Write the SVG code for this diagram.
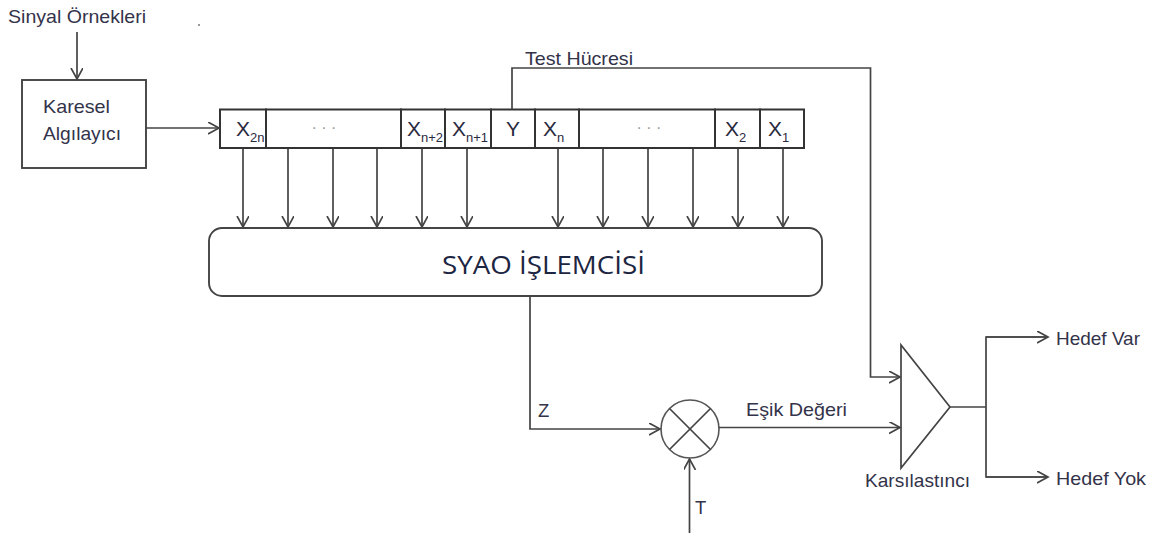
<svg xmlns="http://www.w3.org/2000/svg" width="1161" height="533" viewBox="0 0 1161 533">
<style>
.ln{fill:none;stroke:#444;stroke-width:1.7}
.bx{fill:#fff;stroke:#444;stroke-width:1.9}
.cell{fill:#fff;stroke:#333;stroke-width:2}
.t{font-family:"Liberation Sans",Arial,sans-serif;font-size:18.5px;fill:#33334a}
.x{font-family:"Liberation Sans",Arial,sans-serif;font-size:21px;fill:#2a2a40}
.sub{font-family:"Liberation Sans",Arial,sans-serif;font-size:13px;fill:#2a2a40}
.dots{font-family:"Liberation Sans",Arial,sans-serif;font-size:16px;fill:#9a9a9a}
.big{font-family:"Open Sans","Noto Sans",sans-serif;font-size:25px;fill:#1c2541}
</style>
<defs>
<marker id="ah" markerUnits="userSpaceOnUse" markerWidth="14" markerHeight="14" refX="11" refY="6" orient="auto" viewBox="0 0 14 14">
<path d="M0,0 L11,6 L0,12" fill="none" stroke="#444" stroke-width="1.7"/>
</marker>
</defs>
<rect width="1161" height="533" fill="#fff"/>

<g id="label-sinyal">
<text class="t" x="8" y="23" textLength="138" lengthAdjust="spacingAndGlyphs">Sinyal Örnekleri</text>
</g>
<circle cx="199" cy="25" r="0.9" fill="#666"/>

<g id="karesel">
<rect class="bx" x="22" y="80" width="124" height="88"/>
<text class="t" x="43" y="113" textLength="67" lengthAdjust="spacingAndGlyphs">Karesel</text>
<text class="t" x="43" y="140" textLength="78" lengthAdjust="spacingAndGlyphs">Algılayıcı</text>
</g>

<g id="shift-register">
<rect class="cell" x="220" y="109.5" width="46" height="38.5"/>
<rect class="cell" x="266" y="109.5" width="135" height="38.5"/>
<rect class="cell" x="401" y="109.5" width="44" height="38.5"/>
<rect class="cell" x="445" y="109.5" width="46" height="38.5"/>
<rect class="cell" x="491" y="109.5" width="44" height="38.5"/>
<rect class="cell" x="535" y="109.5" width="44" height="38.5"/>
<rect class="cell" x="579" y="109.5" width="136" height="38.5"/>
<rect class="cell" x="715" y="109.5" width="45" height="38.5"/>
<rect class="cell" x="760" y="109.5" width="44" height="38.5"/>
<text class="x" x="236" y="136">X</text><text class="sub" x="250" y="142">2n</text>
<text class="dots" x="324" y="133" text-anchor="middle">· · ·</text>
<text class="x" x="407" y="136">X</text><text class="sub" x="421" y="142" textLength="22" lengthAdjust="spacingAndGlyphs">n+2</text>
<text class="x" x="452" y="136">X</text><text class="sub" x="466" y="142" textLength="22" lengthAdjust="spacingAndGlyphs">n+1</text>
<text class="x" x="506" y="136">Y</text>
<text class="x" x="543" y="136">X</text><text class="sub" x="557" y="142">n</text>
<text class="dots" x="649" y="133" text-anchor="middle">· · ·</text>
<text class="x" x="725" y="136">X</text><text class="sub" x="739" y="142">2</text>
<text class="x" x="768" y="136">X</text><text class="sub" x="782" y="142">1</text>
</g>

<g id="syao">
<rect class="bx" x="209" y="228" width="613" height="68" rx="13" ry="13"/>
<text class="big" x="442" y="274" textLength="203" lengthAdjust="spacingAndGlyphs">SYAO İŞLEMCİSİ</text>
</g>

<g id="multiplier">
<circle cx="690" cy="429" r="29" fill="#fff" stroke="#555" stroke-width="1.6"/>
<line class="ln" x1="669.5" y1="408.5" x2="710.5" y2="449.5"/>
<line class="ln" x1="710.5" y1="408.5" x2="669.5" y2="449.5"/>
</g>

<g id="comparator">
<polygon points="901,345 901,468 950,407" fill="#fff" stroke="#444" stroke-width="1.7"/>
<text class="t" x="865" y="487" textLength="105" lengthAdjust="spacingAndGlyphs">Karsılastıncı</text>
</g>

<g id="outputs">
<text class="t" x="1056" y="345" textLength="84" lengthAdjust="spacingAndGlyphs">Hedef Var</text>
<text class="t" x="1056" y="485" textLength="90" lengthAdjust="spacingAndGlyphs">Hedef Yok</text>
</g>

<g id="connectors">
<line class="ln" x1="77" y1="32" x2="77" y2="79" marker-end="url(#ah)"/>
<line class="ln" x1="146" y1="128" x2="219" y2="128" marker-end="url(#ah)"/>
<line class="ln" x1="243" y1="149" x2="243" y2="227" marker-end="url(#ah)"/>
<line class="ln" x1="288" y1="149" x2="288" y2="227" marker-end="url(#ah)"/>
<line class="ln" x1="333" y1="149" x2="333" y2="227" marker-end="url(#ah)"/>
<line class="ln" x1="377" y1="149" x2="377" y2="227" marker-end="url(#ah)"/>
<line class="ln" x1="422" y1="149" x2="422" y2="227" marker-end="url(#ah)"/>
<line class="ln" x1="467" y1="149" x2="467" y2="227" marker-end="url(#ah)"/>
<line class="ln" x1="558" y1="149" x2="558" y2="227" marker-end="url(#ah)"/>
<line class="ln" x1="603" y1="149" x2="603" y2="227" marker-end="url(#ah)"/>
<line class="ln" x1="648" y1="149" x2="648" y2="227" marker-end="url(#ah)"/>
<line class="ln" x1="693" y1="149" x2="693" y2="227" marker-end="url(#ah)"/>
<line class="ln" x1="738" y1="149" x2="738" y2="227" marker-end="url(#ah)"/>
<line class="ln" x1="783" y1="149" x2="783" y2="227" marker-end="url(#ah)"/>
<polyline class="ln" points="512,109.5 512,68 870.5,68 870.5,377 900,377" marker-end="url(#ah)"/>
<text class="t" x="525" y="65" textLength="108" lengthAdjust="spacingAndGlyphs">Test Hücresi</text>
<polyline class="ln" points="530,296 530,429 660,429" marker-end="url(#ah)"/>
<text class="t" x="538" y="417">Z</text>
<line class="ln" x1="689.5" y1="533" x2="689.5" y2="459" marker-end="url(#ah)"/>
<text class="t" x="695" y="514">T</text>
<line class="ln" x1="719" y1="427.5" x2="900" y2="427.5" marker-end="url(#ah)"/>
<text class="t" x="746" y="416" textLength="101" lengthAdjust="spacingAndGlyphs">Eşik Değeri</text>
<polyline class="ln" points="950,407 986,407"/>
<polyline class="ln" points="1047,337 986,337 986,477 1047,477"/>
<line class="ln" x1="986" y1="337" x2="1048" y2="337" marker-end="url(#ah)"/>
<line class="ln" x1="986" y1="477" x2="1048" y2="477" marker-end="url(#ah)"/>
</g>
</svg>
